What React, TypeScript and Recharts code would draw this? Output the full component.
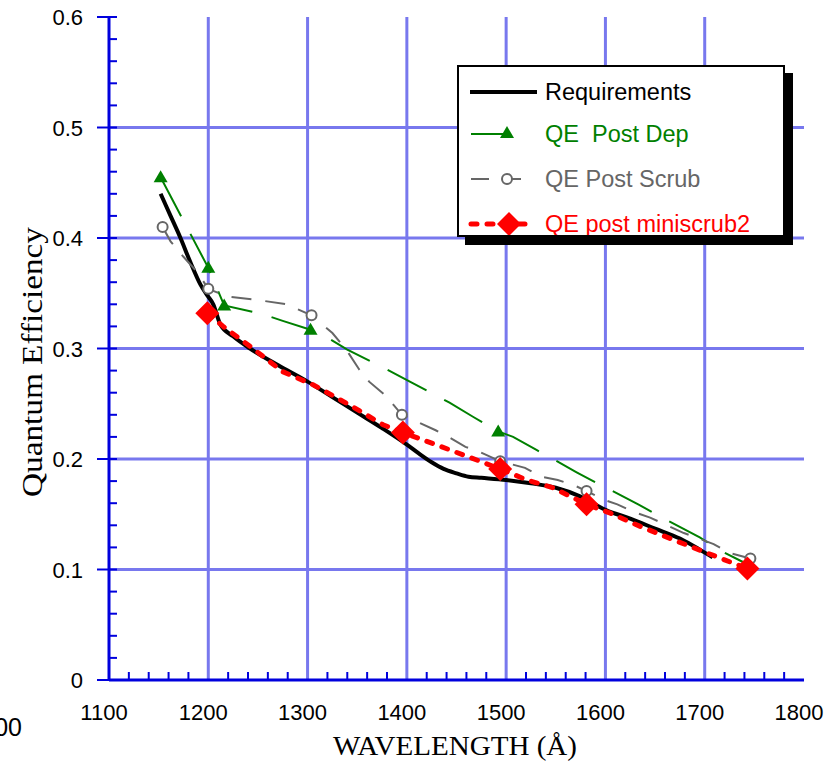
import { LineChart, Line, XAxis, YAxis, CartesianGrid } from 'recharts';

// wavelength (Å) / quantum efficiency
const reqWave = [1152, 1162, 1172, 1182, 1192, 1199, 1205, 1212, 1225, 1242, 1270, 1300, 1325, 1350, 1375, 1400, 1412, 1425, 1437, 1450, 1462, 1475, 1500, 1525, 1550, 1575, 1600, 1625, 1650, 1675, 1695, 1708];
const reqQE = [0.44, 0.42, 0.4, 0.378, 0.358, 0.348, 0.34, 0.322, 0.311, 0.3, 0.285, 0.27, 0.256, 0.242, 0.228, 0.213, 0.205, 0.197, 0.191, 0.187, 0.184, 0.183, 0.181, 0.178, 0.174, 0.166, 0.154, 0.146, 0.137, 0.128, 0.118, 0.111];

const depWave = [1152, 1200, 1216, 1255, 1275, 1303, 1318, 1340, 1380, 1403, 1443, 1467, 1492, 1507, 1531, 1571, 1592, 1633, 1655, 1695, 1718, 1738, 1745];
const depQE = [0.455, 0.373, 0.339, 0.331, 0.325, 0.317, 0.311, 0.299, 0.281, 0.27, 0.251, 0.238, 0.225, 0.22, 0.208, 0.188, 0.178, 0.159, 0.148, 0.129, 0.116, 0.107, 0.104];
const depMarkWave = [1152, 1200, 1216, 1303, 1492, 1745];
const depMarkQE = [0.455, 0.373, 0.339, 0.317, 0.225, 0.104];

const scrubWave = [1154, 1162, 1175, 1189, 1200, 1219, 1249, 1279, 1304, 1325, 1339, 1352, 1362, 1379, 1395, 1412, 1429, 1442, 1459, 1472, 1494, 1519, 1535, 1552, 1569, 1581, 1599, 1612, 1629, 1645, 1662, 1679, 1709, 1725, 1746];
const scrubQE = [0.41, 0.397, 0.383, 0.369, 0.354, 0.347, 0.344, 0.34, 0.33, 0.314, 0.299, 0.281, 0.27, 0.257, 0.24, 0.233, 0.226, 0.22, 0.211, 0.207, 0.198, 0.192, 0.184, 0.181, 0.176, 0.171, 0.163, 0.159, 0.152, 0.147, 0.14, 0.133, 0.123, 0.115, 0.11];
const scrubMarkWave = [1154, 1200, 1304, 1395, 1494, 1581, 1746];
const scrubMarkQE = [0.41, 0.354, 0.33, 0.24, 0.198, 0.171, 0.11];

const miniWave = [1199, 1215, 1242, 1275, 1306, 1346, 1376, 1396, 1423, 1456, 1494, 1521, 1547, 1581, 1605, 1635, 1668, 1708, 1725, 1743];
const miniQE = [0.332, 0.32, 0.302, 0.279, 0.267, 0.247, 0.231, 0.224, 0.215, 0.204, 0.191, 0.181, 0.174, 0.159, 0.151, 0.139, 0.127, 0.113, 0.107, 0.101];
const miniMarkWave = [1199, 1396, 1494, 1581, 1743];
const miniMarkQE = [0.332, 0.224, 0.191, 0.159, 0.101];

const xTicks: number[] = [];
for (let v = 1100; v <= 1800; v += 20) xTicks.push(v);
const yTicks: number[] = [];
for (let k = 0; k <= 30; k++) yTicks.push(Math.round(k * 2) / 100);

const toRows = (w: number[], q: number[]) => w.map((x, i) => ({ w: x, qe: q[i] }));

const AXIS = '#0000dd';
const GRID = '#7878ee';
const SANS = '"Liberation Sans", Arial, sans-serif';
const SERIF = '"Liberation Serif", "Times New Roman", serif';

const isMajorX = (v: number) => v % 100 === 0;
const isMajorY = (v: number) => Math.round(v * 100) % 10 === 0;

const BottomTick = (p: any) => {
  const { x, y, payload } = p;
  const v = payload.value;
  return (
    <g>
      {!isMajorX(v) && <line x1={x} x2={x} y1={y} y2={y - 8} stroke={AXIS} strokeWidth={2} />}
      {isMajorX(v) && (
        <text x={x - 5} y={y + 40} textAnchor="middle" fontSize={22} fontFamily={SANS} fill="#000">
          {v}
        </text>
      )}
    </g>
  );
};

const TopTick = (p: any) => {
  const { x, y, payload } = p;
  if (isMajorX(payload.value)) return <g />;
  return <line x1={x} x2={x} y1={y} y2={y + 6} stroke={AXIS} strokeWidth={2} />;
};

const LeftTick = (p: any) => {
  const { x, y, payload } = p;
  const v = payload.value;
  const major = isMajorY(v);
  return (
    <g>
      <line x1={major ? x - 12 : x} x2={x + 8} y1={y} y2={y} stroke={AXIS} strokeWidth={2} />
      {major && (
        <text x={x - 26} y={y + 8} textAnchor="end" fontSize={22} fontFamily={SANS} fill="#000">
          {v === 0 ? '0' : v.toFixed(1)}
        </text>
      )}
    </g>
  );
};

const RightTick = (p: any) => {
  const { x, y, payload } = p;
  const major = isMajorY(payload.value);
  return <line x1={x - (major ? 8 : 7)} x2={major ? x + 12 : x} y1={y} y2={y} stroke={AXIS} strokeWidth={2} />;
};

const triangle = (p: any) => (
  <path key={`t${p.cx}-${p.cy}`} d={`M${p.cx},${p.cy - 7} L${p.cx + 7},${p.cy + 5} L${p.cx - 7},${p.cy + 5} Z`} fill="#008000" />
);
const ring = (p: any) => (
  <circle key={`c${p.cx}-${p.cy}`} cx={p.cx} cy={p.cy} r={5} fill="#fff" stroke="#666" strokeWidth={2} />
);
const diamond = (p: any) => (
  <path key={`d${p.cx}-${p.cy}`} d={`M${p.cx},${p.cy - 12} L${p.cx + 12},${p.cy} L${p.cx},${p.cy + 12} L${p.cx - 12},${p.cy} Z`} fill="#ff0000" />
);

function LegendBox() {
  const rows = [
    { label: 'Requirements', color: '#000', y: 25 },
    { label: 'QE\u00a0 Post Dep', color: '#008000', y: 67 },
    { label: 'QE Post Scrub', color: '#666', y: 112 },
    { label: 'QE post miniscrub2', color: '#ff0000', y: 157 },
  ];
  return (
    <div
      style={{
        position: 'absolute', left: 457, top: 65, width: 324, height: 168,
        border: '2px solid #000', background: '#fff', boxShadow: '8px 8px 0 #000',
      }}
    >
      <svg width={324} height={168} style={{ position: 'absolute', left: 0, top: 0 }}>
        <line x1={11} x2={78} y1={25} y2={25} stroke="#000" strokeWidth={4} />
        <line x1={12} x2={48} y1={67} y2={67} stroke="#008000" strokeWidth={2} />
        {triangle({ cx: 48, cy: 66 })}
        <line x1={12} x2={30} y1={112} y2={112} stroke="#666" strokeWidth={2} />
        <line x1={48} x2={62} y1={112} y2={112} stroke="#666" strokeWidth={2} />
        {ring({ cx: 48, cy: 112 })}
        <line x1={12} x2={76} y1={157} y2={157} stroke="#ff0000" strokeWidth={5} strokeDasharray="6 10" strokeLinecap="round" />
        {diamond({ cx: 50, cy: 157 })}
        {rows.map((r) => (
          <text key={r.label} x={86} y={r.y + 8} fontSize={23.5} fontFamily={SANS} fill={r.color}>
            {r.label}
          </text>
        ))}
      </svg>
    </div>
  );
}

export default function App() {
  return (
    <div style={{ position: 'absolute', left: 0, top: 0, width: 832, height: 762, background: '#fff' }}>
      <LineChart width={832} height={762} margin={{ top: 17, right: 28, bottom: 0, left: 0 }}>
        <CartesianGrid
          horizontalValues={[0.1, 0.2, 0.3, 0.4, 0.5]}
          verticalValues={[1200, 1300, 1400, 1500, 1600, 1700]}
          stroke={GRID}
          strokeWidth={3}
        />
        <XAxis
          dataKey="w" type="number" domain={[1100, 1800]} ticks={xTicks} interval={0}
          height={82} tickSize={0} tickMargin={0} tickLine={false} tick={<BottomTick />}
          axisLine={{ stroke: AXIS, strokeWidth: 3 }} allowDuplicatedCategory={false}
        />
        <XAxis
          xAxisId="top" orientation="top" dataKey="w" type="number" domain={[1100, 1800]} ticks={xTicks}
          interval={0} height={0} tickSize={0} tickMargin={0} tickLine={false} tick={<TopTick />}
          axisLine={{ stroke: AXIS, strokeWidth: 3 }}
        />
        <YAxis
          type="number" domain={[0, 0.6]} ticks={yTicks} interval={0} width={109}
          tickSize={0} tickMargin={0} tickLine={false} tick={<LeftTick />}
          axisLine={{ stroke: AXIS, strokeWidth: 3 }}
          label={{
            content: () => (
              <text
                x={0} y={0} transform="translate(42,362) rotate(-90)" textAnchor="middle"
                fontSize={30} fontFamily={SERIF} fill="#000" textLength={270} lengthAdjust="spacingAndGlyphs"
              >
                Quantum Efficiency
              </text>
            ),
          }}
        />
        <YAxis
          yAxisId="right" orientation="right" type="number" domain={[0, 0.6]} ticks={yTicks} interval={0}
          width={0} tickSize={0} tickMargin={0} tickLine={false} tick={<RightTick />}
          axisLine={{ stroke: AXIS, strokeWidth: 3 }}
        />
        <Line data={toRows(reqWave, reqQE)} dataKey="qe" type="monotone" stroke="#000" strokeWidth={4} dot={false} isAnimationActive={false} />
        <Line data={toRows(depWave, depQE)} dataKey="qe" stroke="#008000" strokeWidth={2} strokeDasharray="44 20" dot={false} isAnimationActive={false} />
        <Line data={toRows(depMarkWave, depMarkQE)} dataKey="qe" stroke="none" dot={triangle} isAnimationActive={false} />
        <Line data={toRows(scrubWave, scrubQE)} dataKey="qe" stroke="#666" strokeWidth={2} strokeDasharray="20 14" dot={false} isAnimationActive={false} />
        <Line data={toRows(scrubMarkWave, scrubMarkQE)} dataKey="qe" stroke="none" dot={ring} isAnimationActive={false} />
        <Line data={toRows(miniWave, miniQE)} dataKey="qe" stroke="#ff0000" strokeWidth={5} strokeDasharray="6 10" strokeLinecap="round" dot={false} isAnimationActive={false} />
        <Line data={toRows(miniMarkWave, miniMarkQE)} dataKey="qe" stroke="none" dot={diamond} isAnimationActive={false} />
      </LineChart>
      <LegendBox />
      <svg width={832} height={762} style={{ position: 'absolute', left: 0, top: 0, pointerEvents: 'none' }}>
        <text x={455} y={755} textAnchor="middle" fontSize={27} fontFamily={SERIF} fill="#000" textLength={244} lengthAdjust="spacingAndGlyphs">
          WAVELENGTH (Å)
        </text>
        <text x={22} y={736} textAnchor="end" fontSize={25} fontFamily={SANS} fill="#000">
          00
        </text>
      </svg>
    </div>
  );
}
